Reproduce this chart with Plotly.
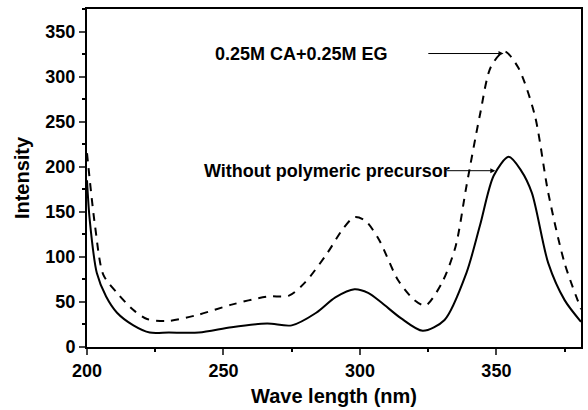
import plotly.graph_objects as go

# Wavelength (nm) and intensities
wl_solid = [200, 201, 203.6, 207, 211, 217, 223, 230, 241, 253, 266, 275, 284, 291, 298, 303, 308, 315, 323, 331, 339, 344, 349, 354.5, 359, 363, 369, 375, 381]
int_solid = [185, 141, 82, 56, 38, 24, 16, 16, 16, 22, 26, 24, 38, 55, 64, 60, 49, 32, 18, 30, 82, 135, 190, 211, 196, 171, 93, 52, 28]

wl_dash = [200, 203, 206, 211, 217, 222, 230, 241, 253, 266, 274, 280, 288, 294, 298, 302, 307, 314, 320, 324, 330, 335, 339, 344, 348, 353, 358, 364, 369, 375, 381]
int_dash = [215, 133, 80, 60, 41, 31, 29, 36, 47, 56, 57, 72, 104, 132, 144, 140, 119, 74, 52, 46, 71, 111, 178, 258, 311, 328, 310, 258, 171, 93, 42]

x_ticks = [200, 250, 300, 350]
y_ticks = [0, 50, 100, 150, 200, 250, 300, 350]

label_dash = "0.25M CA+0.25M EG"
label_solid = "Without polymeric precursor"

FAM = "Liberation Sans, Arial, sans-serif"

fig = go.Figure()
fig.add_trace(go.Scatter(x=wl_dash, y=int_dash, mode="lines",
                         line=dict(color="black", width=2, dash="8px,7px", shape="spline", smoothing=0.8),
                         showlegend=False))
fig.add_trace(go.Scatter(x=wl_solid, y=int_solid, mode="lines",
                         line=dict(color="black", width=2, shape="spline", smoothing=0.8),
                         showlegend=False))

tickf = dict(family=FAM, size=18, color="black", weight="bold")
titlef = dict(family=FAM, size=20, color="black", weight="bold")

fig.update_layout(
    width=588, height=410,
    margin=dict(l=87, r=5, t=9, b=63),
    plot_bgcolor="white", paper_bgcolor="white",
    xaxis=dict(range=[200, 381], tickvals=x_ticks, ticks="outside", ticklen=6, tickwidth=1.5,
               showline=True, linecolor="black", linewidth=2, mirror=True, showgrid=False, zeroline=False,
               tickfont=tickf,
               minor=dict(dtick=25, tick0=200, ticks="outside", ticklen=3, tickcolor="black", showgrid=False),
               title=dict(text="Wave length (nm)", font=titlef, standoff=9)),
    yaxis=dict(range=[0, 375], tickvals=y_ticks, ticks="outside", ticklen=6, tickwidth=1.5,
               showline=True, linecolor="black", linewidth=2, mirror=True, showgrid=False, zeroline=False,
               tickfont=tickf,
               minor=dict(dtick=25, tick0=0, ticks="outside", ticklen=3, tickcolor="black", showgrid=False),
               title=dict(text="Intensity", font=titlef, standoff=10)),
)

labf = dict(family=FAM, size=18, color="black", weight="bold")
fig.add_annotation(x=278.5, y=325.6, xref="x", yref="y", text=label_dash, showarrow=False, font=labf)
fig.add_annotation(x=352.6, y=325.6, ax=324.5, ay=325.6, xref="x", yref="y", axref="x", ayref="y",
                   text="", showarrow=True, arrowhead=2, arrowsize=1, arrowwidth=1, arrowcolor="black")
fig.add_annotation(x=288, y=195.6, xref="x", yref="y", text=label_solid, showarrow=False, font=labf)
fig.add_annotation(x=349.6, y=195.6, ax=331.4, ay=195.6, xref="x", yref="y", axref="x", ayref="y",
                   text="", showarrow=True, arrowhead=2, arrowsize=1, arrowwidth=1, arrowcolor="black")

fig.write_html("out.html")
